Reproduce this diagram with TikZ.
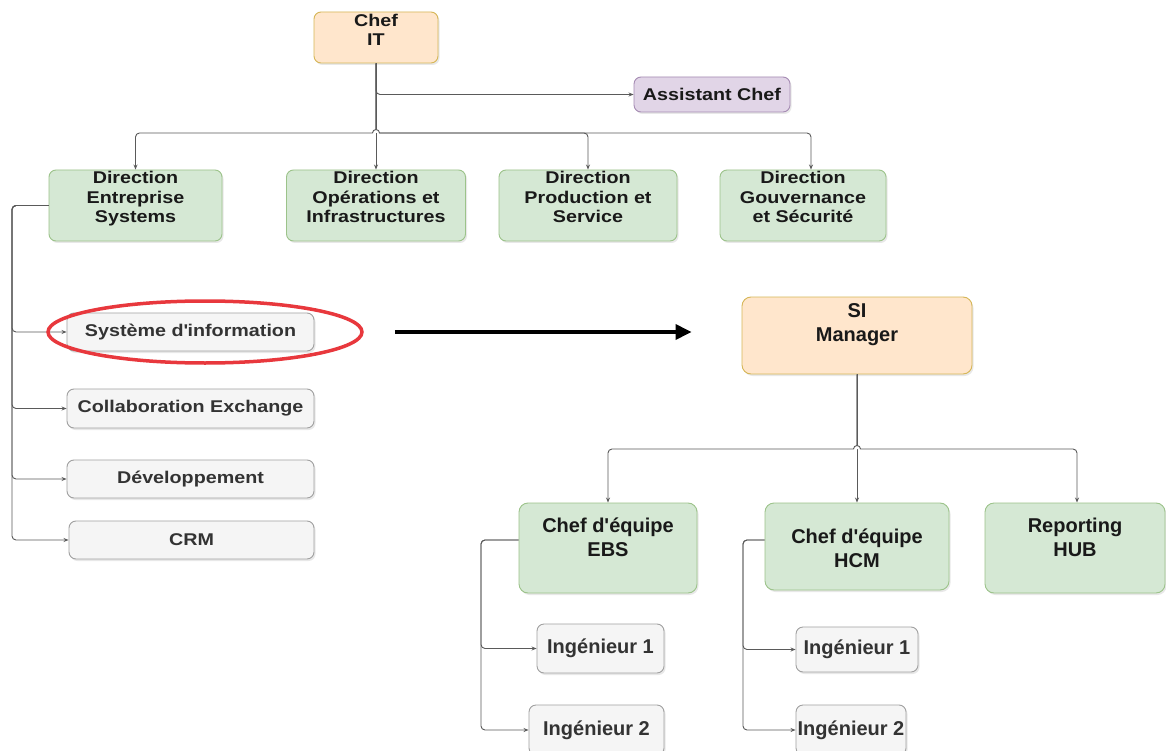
\documentclass[tikz,border=0pt]{standalone}
\usepackage{fontspec}
\setmainfont{Liberation Sans}
\newfontfamily\widefont[FakeStretch=1.16]{Liberation Sans}
\usetikzlibrary{arrows.meta,shapes.geometric,shadows}
\definecolor{orfill}{HTML}{FFE6CC}
\definecolor{orline}{HTML}{D6B656}
\definecolor{grfill}{HTML}{D5E8D4}
\definecolor{grline}{HTML}{9CC38A}
\definecolor{pufill}{HTML}{E1D5E7}
\definecolor{puline}{HTML}{A58BB3}
\definecolor{gyfill}{HTML}{F5F5F5}
\definecolor{gyline}{HTML}{A0A0A0}
\definecolor{conncol}{HTML}{5A5A5A}
\definecolor{txtdark}{HTML}{333333}
\definecolor{ringred}{HTML}{E8383D}
\newcommand{\apos}{\textquotesingle}
\begin{document}
\begin{tikzpicture}[x=1pt,y=-1pt,
  sz/.style 2 args={minimum width=#1pt,minimum height=#2pt},
  box/.style={draw,rounded corners=7pt,line width=0.9pt,inner sep=0pt,
    drop shadow={opacity=0.18,shadow xshift=1.5pt,shadow yshift=-2pt}},
  orbox/.style={box,fill=orfill,draw=orline},
  grbox/.style={box,fill=grfill,draw=grline},
  pubox/.style={box,fill=pufill,draw=puline},
  gybox/.style={box,fill=gyfill,draw=gyline},
  toptxt/.style={align=center,inner sep=0pt,text=black!90,
    font=\widefont\bfseries\fontsize{17}{19.5}\selectfont},
  listtxt/.style={toptxt,text=txtdark},
  sitxt/.style={align=center,inner sep=0pt,text=black!90,
    font=\bfseries\fontsize{20}{24}\selectfont},
  engtxt/.style={sitxt,text=txtdark},
  conn/.style={draw=conncol,line width=0.9pt,rounded corners=4pt,
    -{Stealth[length=5pt,width=4pt]}},
  bigarrow/.style={draw=black,line width=3.5pt,-{Triangle[length=16pt,width=15pt]}},
]
\fill[white] (0,0) rectangle (1166,751);
\useasboundingbox (0,0) rectangle (1166,751);

% --- upper organisation ---
\node[orbox,sz={124}{51}] (chef) at (376,37.5) {};
\node[toptxt] (chefT) at ([yshift=7.5pt]chef.center) {Chef\\IT};

\node[pubox,sz={156}{35}] (assist) at (712,94.5) {};
\node[toptxt] (assistT) at (assist.center) {Assistant Chef};

\node[grbox,sz={173}{71}] (dE) at (135.5,205.5) {};
\node[grbox,sz={179}{71}] (dO) at (376,205.5) {};
\node[grbox,sz={178}{71}] (dP) at (588,205.5) {};
\node[grbox,sz={166}{71}] (dG) at (803,205.5) {};
\node[toptxt,anchor=north] (dEt) at ([yshift=-1.5pt]dE.north) {Direction\\Entreprise\\Systems};
\node[toptxt,anchor=north] (dOt) at ([yshift=-1.5pt]dO.north) {Direction\\Opérations et\\Infrastructures};
\node[toptxt,anchor=north] (dPt) at ([yshift=-1.5pt]dP.north) {Direction\\Production et\\Service};
\node[toptxt,anchor=north] (dGt) at ([yshift=-1.5pt]dG.north) {Direction\\Gouvernance\\et Sécurité};

\coordinate (busA) at (376,133);
\draw[conn] (chef.south) |- (assist.west);
\draw[conn] (chef.south) -- (busA) -| (dE.north);
\draw[conn] (chef.south) -- (dO.north);
\draw[conn] (chef.south) -- (busA) -| (dP.north);
\draw[conn] (chef.south) -- (busA) -| ([xshift=8pt]dG.north);
% small line jump where the bus crosses the trunk
\draw[draw=conncol,line width=0.9pt,fill=white] ([xshift=-3.5pt]busA) arc (180:0:3.5pt);

% --- services of Direction Entreprise Systems ---
\node[gybox,sz={247}{38}] (sys) at (190.5,332) {};
\node[gybox,sz={247}{39}] (col) at (190.5,408.5) {};
\node[gybox,sz={247}{38}] (dev) at (190.5,479) {};
\node[gybox,sz={245}{38}] (crm) at (191.5,540) {};
\node[listtxt] (sysT) at (sys.center) {Système d\apos information};
\node[listtxt] (colT) at (col.center) {Collaboration Exchange};
\node[listtxt] (devT) at (dev.center) {Développement};
\node[listtxt] (crmT) at (crm.center) {CRM};

\coordinate (lt) at (12,205.5);
\draw[conn] (dE.west) -- (lt) |- (sys.west);
\draw[conn] (dE.west) -- (lt) |- (col.west);
\draw[conn] (dE.west) -- (lt) |- (dev.west);
\draw[conn] (dE.west) -- (lt) |- (crm.west);

\node[draw=ringred,ellipse,line width=3.5pt,sz={314}{62},inner sep=0pt] (hl) at (205,332) {};

% --- SI team ---
\node[orbox,rounded corners=9pt,sz={230}{77}] (si) at (857,335.5) {};
\node[sitxt] (siT) at ([yshift=11pt]si.center) {SI\\Manager};

\coordinate (ae) at (hl.east -| si.west);
\draw[bigarrow] ([xshift=31pt]hl.east) -- ([xshift=-50pt]ae);

\node[grbox,rounded corners=9pt,sz={178}{90}] (ebs) at (608,548) {};
\node[grbox,rounded corners=9pt,sz={184}{87}] (hcm) at (857,546.5) {};
\node[grbox,rounded corners=9pt,sz={180}{90}] (rep) at (1075,548) {};
\node[sitxt] (ebsT) at ([yshift=11pt]ebs.center) {Chef d\apos équipe\\EBS};
\node[sitxt] (hcmT) at ([yshift=-1.5pt]hcm.center) {Chef d\apos équipe\\HCM};
\node[sitxt] (repT) at ([yshift=11pt]rep.center) {Reporting\\HUB};

\coordinate (busB) at (857,449);
\draw[conn] (si.south) -- (busB) -| (ebs.north);
\draw[conn] (si.south) -- (hcm.north);
\draw[conn] (si.south) -- (busB) -| ([xshift=2pt]rep.north);
\draw[draw=conncol,line width=0.9pt,fill=white] ([xshift=-3.5pt]busB) arc (180:0:3.5pt);

\node[gybox,sz={127}{49}] (e1) at (600.5,648.5) {};
\node[gybox,sz={135}{50}] (e2) at (596.5,730) {};
\node[gybox,sz={122}{45}] (h1) at (857,649.5) {};
\node[gybox,sz={110}{50}] (h2) at (851,730) {};
\node[engtxt] (e1T) at (e1.center) {Ingénieur 1};
\node[engtxt] (e2T) at (e2.center) {Ingénieur 2};
\node[engtxt] (h1T) at (h1.center) {Ingénieur 1};
\node[engtxt] (h2T) at (h2.center) {Ingénieur 2};

\coordinate (le) at (481,540);
\coordinate (lh) at (743,540);
\draw[conn] ([yshift=8pt]ebs.west) -- (le) |- (e1.west);
\draw[conn] ([yshift=8pt]ebs.west) -- (le) |- (e2.west);
\draw[conn] ([yshift=6.5pt]hcm.west) -- (lh) |- (h1.west);
\draw[conn] ([yshift=6.5pt]hcm.west) -- (lh) |- (h2.west);
\end{tikzpicture}
\end{document}
